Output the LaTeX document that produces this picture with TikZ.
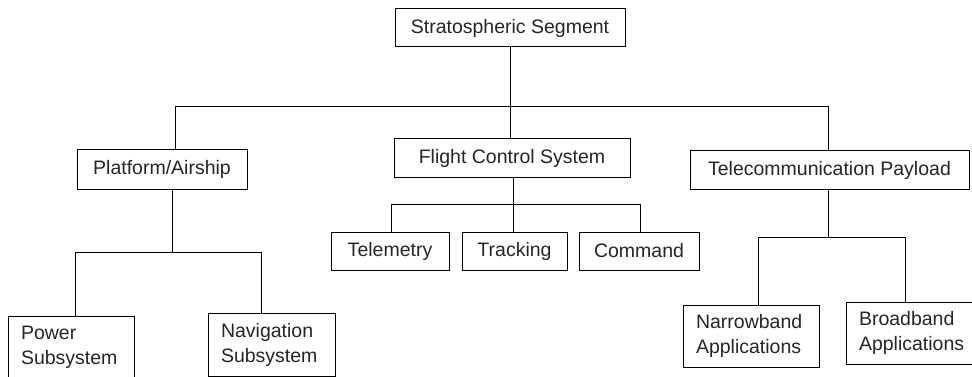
\documentclass[tikz,border=0pt]{standalone}
\usepackage{fontspec}
\setmainfont{Liberation Sans}
\begin{document}
\begin{tikzpicture}[x=1pt,y=-1pt,
  box/.style={draw=black, line width=1pt, inner sep=0pt, outer sep=0pt, rectangle,
    font=\fontsize{19.5}{25}\selectfont, text=black!85},
  twobox/.style={box, align=left, inner xsep=13pt},
  link/.style={draw=black, line width=1pt}]
\useasboundingbox (0,0) rectangle (972,377);
\clip (0,0) rectangle (972,377);
\fill[white] (0,0) rectangle (972,377);
% boxes
\node[box, minimum width=230pt, minimum height=38pt] (top) at (510,28) {Stratospheric Segment};
\node[box, minimum width=170pt, minimum height=39pt] (plat) at (162,169.5) {Platform/Airship};
\node[box, minimum width=236pt, minimum height=38pt] (fcs) at (512,158) {Flight Control System};
\node[box, minimum width=279pt, minimum height=38pt] (tel) at (829.5,170) {Telecommunication Payload};
\node[box, minimum width=118pt, minimum height=38pt] (telem) at (390,251) {Telemetry};
\node[box, minimum width=105pt, minimum height=38pt] (track) at (514.5,251) {Tracking};
\node[box, minimum width=120pt, minimum height=38pt] (cmd) at (639,251) {Command};
\node[twobox, text width=100pt, minimum width=126pt, minimum height=63pt] (power) at (71,347.5) {Power\\Subsystem};
\node[twobox, text width=101pt, minimum width=127pt, minimum height=63pt] (nav) at (271.5,344.5) {Navigation\\Subsystem};
\node[twobox, text width=110pt, minimum width=136pt, minimum height=62pt] (narrow) at (751,336) {Narrowband\\Applications};
\node[twobox, text width=110pt, minimum width=136pt, minimum height=62pt] (broad) at (914,333) {Broadband\\Applications};
% bus coordinates
\coordinate (busL) at (175,107);
\coordinate (busR) at (828,107);
\coordinate (pM) at (172,252);
\coordinate (pL) at (75,252);
\coordinate (pR) at (261,252);
\coordinate (fM) at (513,204);
\coordinate (fL) at (391,204);
\coordinate (fR) at (640,204);
\coordinate (tM) at (828,237);
\coordinate (tL) at (758,237);
\coordinate (tR) at (905,237);
% connectors
\draw[link] (top.south) -- (top.south |- fcs.north);
\draw[link] (busL |- plat.north) -- (busL) -- (busR) -- (busR |- tel.north);
\draw[link] (pM |- plat.south) -- (pM);
\draw[link] (pL |- power.north) -- (pL) -- (pR) -- (pR |- nav.north);
\draw[link] (fM |- fcs.south) -- (fM);
\draw[link] (fL |- telem.north) -- (fL) -- (fR) -- (fR |- cmd.north);
\draw[link] (fM) -- (fM |- track.north);
\draw[link] (tM |- tel.south) -- (tM);
\draw[link] (tL |- narrow.north) -- (tL) -- (tR) -- (tR |- broad.north);
\end{tikzpicture}
\end{document}
